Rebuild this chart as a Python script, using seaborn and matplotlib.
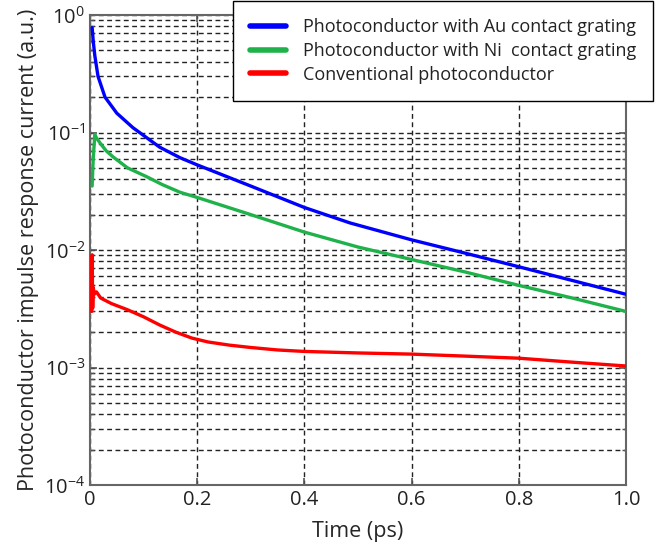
import matplotlib
matplotlib.use("Agg")
import matplotlib.pyplot as plt
import matplotlib.ticker as mticker
import seaborn as sns
import numpy as np
import pandas as pd

# values
au_time = [0.004, 0.006, 0.009, 0.015, 0.028, 0.05, 0.08, 0.13, 0.168, 0.2,
           0.3, 0.4, 0.485, 0.6, 0.7, 0.8, 0.9, 1.0]
au_current = [0.78, 0.6, 0.45, 0.3, 0.2, 0.146, 0.11, 0.075, 0.061, 0.053,
              0.035, 0.023, 0.017, 0.0122, 0.0094, 0.0072, 0.0055, 0.0042]

ni_time = [0.004, 0.006, 0.009, 0.012, 0.02, 0.03, 0.043, 0.07, 0.106, 0.135,
           0.168, 0.2, 0.3, 0.4, 0.5, 0.6, 0.7, 0.8, 0.9, 1.0]
ni_current = [0.035, 0.06, 0.096, 0.09, 0.08, 0.07, 0.062, 0.05, 0.042, 0.036,
              0.031, 0.028, 0.02, 0.0142, 0.0106, 0.0083, 0.0065, 0.005, 0.0039, 0.003]

conv_time = [0.003, 0.004, 0.005, 0.006, 0.008, 0.012, 0.02, 0.04, 0.07, 0.1,
             0.13, 0.16, 0.19, 0.22, 0.26, 0.3, 0.35, 0.4, 0.5, 0.6, 0.7, 0.8, 0.9, 1.0]
conv_current = [0.003, 0.0091, 0.0032, 0.0048, 0.0042, 0.0044, 0.0039, 0.0035, 0.0031, 0.0027,
                0.0023, 0.002, 0.00178, 0.00165, 0.00155, 0.00148, 0.00141, 0.00137, 0.00133,
                0.0013, 0.00125, 0.0012, 0.00111, 0.00103]

labels = ["Photoconductor with Au contact grating",
          "Photoconductor with Ni  contact grating",
          "Conventional photoconductor"]
colors = ["#0000ff", "#1fb24a", "#ff0000"]
xtick_vals = [0, 0.2, 0.4, 0.6, 0.8, 1.0]
xtick_labels = ["0", "0.2", "0.4", "0.6", "0.8", "1.0"]

df = pd.concat([
    pd.DataFrame({"time": au_time, "current": au_current, "device": labels[0]}),
    pd.DataFrame({"time": ni_time, "current": ni_current, "device": labels[1]}),
    pd.DataFrame({"time": conv_time, "current": conv_current, "device": labels[2]}),
], ignore_index=True)

sns.set_style("ticks")
plt.rcParams['font.family'] = ['Open Sans', 'DejaVu Sans']
plt.rcParams['mathtext.fontset'] = 'custom'
plt.rcParams['mathtext.rm'] = 'Open Sans'
plt.rcParams['text.color'] = '#222222'

fig = plt.figure(figsize=(6.62, 5.48), dpi=100)
ax = fig.add_axes([90/662, 1 - 485/548, (626-90)/662, (485-15)/548])

sns.lineplot(data=df, x="time", y="current", hue="device", hue_order=labels,
             palette=colors, linewidth=2.4, estimator=None, sort=False, ax=ax,
             zorder=3)

ax.set_yscale("log")
ax.set_ylim(1e-4, 1)
ax.set_xlim(0, 1.0)
ax.set_xticks(xtick_vals)
ax.set_xticklabels(xtick_labels)
ax.yaxis.set_minor_locator(mticker.LogLocator(base=10, subs=np.arange(2, 10)))
ax.yaxis.set_minor_formatter(mticker.NullFormatter())

ax.grid(True, which="both", axis="y", linestyle=(0, (3.5, 2.5)), color="#222222", lw=1.0)
ax.grid(True, which="major", axis="x", linestyle=(0, (3.5, 2.5)), color="#222222", lw=1.0)

ax.tick_params(which="both", direction="in", top=True, right=True, colors="#555555",
               labelcolor="#222222", labelsize=14.5)
ax.tick_params(which="major", length=5, width=1.2)
ax.tick_params(which="minor", length=3, width=1.0)
for s in ax.spines.values():
    s.set_color("#666666")
    s.set_linewidth(1.5)

ax.set_xlabel("Time (ps)", fontsize=15.5, labelpad=8)
ax.set_ylabel("Photoconductor impulse response current (a.u.)", fontsize=15.5, labelpad=4)

handles, lbls = ax.get_legend_handles_labels()
leg = ax.legend(handles, lbls, loc="upper left", bbox_to_anchor=((233-90)/536, (485-1)/470),
                borderaxespad=0, fontsize=13.0, frameon=True, fancybox=False,
                edgecolor="black", framealpha=1, handlelength=2.0, handletextpad=0.9,
                labelspacing=0.32, borderpad=0.95)
leg.get_frame().set_linewidth(1.0)
for line in leg.get_lines():
    line.set_linewidth(4)
leg.set_zorder(5)

fig.savefig("out.png", dpi=100)
